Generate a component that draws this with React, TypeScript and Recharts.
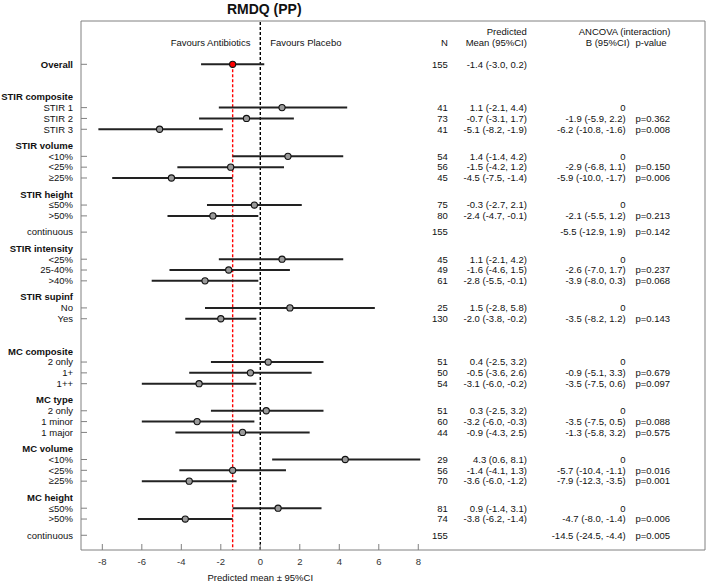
import React from 'react';
import { ComposedChart, Scatter, XAxis, YAxis, ErrorBar, ReferenceLine } from 'recharts';

// ---------- data ----------
const rowLabels: string[] = [
  'Overall', '', 'STIR composite', 'STIR 1', 'STIR 2', 'STIR 3',
  'STIR volume', '<10%', '<25%', '\u226525%',
  'STIR height', '\u226450%', '>50%', 'continuous',
  'STIR intensity', '<25%', '25-40%', '>40%',
  'STIR supinf', 'No', 'Yes', '',
  'MC composite', '2 only', '1+', '1++',
  'MC type', '2 only', '1 minor', '1 major',
  'MC volume', '<10%', '<25%', '\u226525%',
  'MC height', '\u226450%', '>50%', 'continuous',
];
// o = overall, b = blank spacer, h = group header, i = category, c = continuous
const rowTypes: string[] = [
  'o', 'b', 'h', 'i', 'i', 'i',
  'h', 'i', 'i', 'i',
  'h', 'i', 'i', 'c',
  'h', 'i', 'i', 'i',
  'h', 'i', 'i', 'b',
  'h', 'i', 'i', 'i',
  'h', 'i', 'i', 'i',
  'h', 'i', 'i', 'i',
  'h', 'i', 'i', 'c',
];
const nValues: (number | null)[] = [
  155, null, null, 41, 73, 41,
  null, 54, 56, 45,
  null, 75, 80, 155,
  null, 45, 49, 61,
  null, 25, 130, null,
  null, 51, 50, 54,
  null, 51, 60, 44,
  null, 29, 56, 70,
  null, 81, 74, 155,
];
const meanValues: (number | null)[] = [
  -1.4, null, null, 1.1, -0.7, -5.1,
  null, 1.4, -1.5, -4.5,
  null, -0.3, -2.4, null,
  null, 1.1, -1.6, -2.8,
  null, 1.5, -2.0, null,
  null, 0.4, -0.5, -3.1,
  null, 0.3, -3.2, -0.9,
  null, 4.3, -1.4, -3.6,
  null, 0.9, -3.8, null,
];
const meanLow: (number | null)[] = [
  -3.0, null, null, -2.1, -3.1, -8.2,
  null, -1.4, -4.2, -7.5,
  null, -2.7, -4.7, null,
  null, -2.1, -4.6, -5.5,
  null, -2.8, -3.8, null,
  null, -2.5, -3.6, -6.0,
  null, -2.5, -6.0, -4.3,
  null, 0.6, -4.1, -6.0,
  null, -1.4, -6.2, null,
];
const meanHigh: (number | null)[] = [
  0.2, null, null, 4.4, 1.7, -1.9,
  null, 4.2, 1.2, -1.4,
  null, 2.1, -0.1, null,
  null, 4.2, 1.5, -0.1,
  null, 5.8, -0.2, null,
  null, 3.2, 2.6, -0.2,
  null, 3.2, -0.3, 2.5,
  null, 8.1, 1.3, -1.2,
  null, 3.1, -1.4, null,
];
const bValues: (number | null)[] = [
  null, null, null, 0, -1.9, -6.2,
  null, 0, -2.9, -5.9,
  null, 0, -2.1, -5.5,
  null, 0, -2.6, -3.9,
  null, 0, -3.5, null,
  null, 0, -0.9, -3.5,
  null, 0, -3.5, -1.3,
  null, 0, -5.7, -7.9,
  null, 0, -4.7, -14.5,
];
const bLow: (number | null)[] = [
  null, null, null, null, -5.9, -10.8,
  null, null, -6.8, -10.0,
  null, null, -5.5, -12.9,
  null, null, -7.0, -8.0,
  null, null, -8.2, null,
  null, null, -5.1, -7.5,
  null, null, -7.5, -5.8,
  null, null, -10.4, -12.3,
  null, null, -8.0, -24.5,
];
const bHigh: (number | null)[] = [
  null, null, null, null, 2.2, -1.6,
  null, null, 1.1, -1.7,
  null, null, 1.2, 1.9,
  null, null, 1.7, 0.3,
  null, null, 1.2, null,
  null, null, 3.3, 0.6,
  null, null, 0.5, 3.2,
  null, null, -1.1, -3.5,
  null, null, -1.4, -4.4,
];
const pValues: (number | null)[] = [
  null, null, null, null, 0.362, 0.008,
  null, null, 0.150, 0.006,
  null, null, 0.213, 0.142,
  null, null, 0.237, 0.068,
  null, null, 0.143, null,
  null, null, 0.679, 0.097,
  null, null, 0.088, 0.575,
  null, null, 0.016, 0.001,
  null, null, 0.006, 0.005,
];
const xTicks = [-8, -6, -4, -2, 0, 2, 4, 6, 8];
const headerTexts = ['Favours Antibiotics', 'Favours Placebo', 'N', 'Predicted', 'Mean (95%CI)', 'ANCOVA (interaction)', 'B (95%CI)', 'p-value'];
const titleText = 'RMDQ (PP)';
const xAxisTitle = 'Predicted mean \u00b1 95%CI';

// ---------- layout ----------
const W = 708;
const H = 583;
const XMIN = -9.08;
const XMAX = 22.52;
const YMIN = -4;
const YMAX = 44.86;
const FONT = '"Liberation Sans", Arial, Helvetica, sans-serif';
const FS = 9.5;
const AXIS = '#808080';
const TXT = '#111';

// column anchors (data units on the x scale)
const N_X = 9.5;
const MEAN_X = 13.5;
const B_X = 18.5;
const P_X = 19.0;
const headerX = [-0.5, 0.5, N_X, MEAN_X, MEAN_X, 18.45, 18.7, P_X];
const headerRow = [-2, -2, -2, -3, -2, -3, -2, -2];
const headerAnchor = ['end', 'start', 'end', 'end', 'end', 'middle', 'end', 'start'];

// row positions: categories advance by 1, headers / continuous / spacers by 1.5
const rowPos: number[] = [];
{
  let cur = 0;
  rowTypes.forEach((t, i) => {
    if (i > 0) cur += t === 'i' ? 1 : 1.5;
    rowPos.push(cur);
  });
}

const f1 = (v: number) => v.toFixed(1);

const markData = rowPos
  .map((pos, i) => ({ i, pos }))
  .filter(({ i }) => meanValues[i] !== null)
  .map(({ i, pos }) => ({
    x: meanValues[i] as number,
    y: pos,
    err: [(meanValues[i] as number) - (meanLow[i] as number), (meanHigh[i] as number) - (meanValues[i] as number)],
    overall: rowTypes[i] === 'o',
  }));

type TextPt = { x: number; y: number; text: string; anchor: string };
const textData: TextPt[] = [];
rowPos.forEach((pos, i) => {
  if (nValues[i] !== null) textData.push({ x: N_X, y: pos, text: String(nValues[i]), anchor: 'end' });
  if (meanValues[i] !== null)
    textData.push({
      x: MEAN_X,
      y: pos,
      text: `${f1(meanValues[i] as number)} (${f1(meanLow[i] as number)}, ${f1(meanHigh[i] as number)})`,
      anchor: 'end',
    });
  if (bValues[i] !== null) {
    const t = bLow[i] === null ? '0' : `${f1(bValues[i] as number)} (${f1(bLow[i] as number)}, ${f1(bHigh[i] as number)})`;
    textData.push({ x: B_X, y: pos, text: t, anchor: 'end' });
  }
  if (pValues[i] !== null) textData.push({ x: P_X, y: pos, text: `p=${(pValues[i] as number).toFixed(3)}`, anchor: 'start' });
});
headerTexts.forEach((t, k) => textData.push({ x: headerX[k], y: headerRow[k], text: t, anchor: headerAnchor[k] }));

const tickRows = rowPos.filter((_, i) => rowTypes[i] !== 'b');
const dataTickRows = rowPos.filter((_, i) => rowTypes[i] !== 'b' && rowTypes[i] !== 'h');

// ---------- shapes ----------
const TextShape = (props: any) => {
  const { cx, cy, payload } = props;
  return (
    <text x={cx} y={cy} dy="0.35em" textAnchor={payload.anchor} fontSize={FS} fontFamily={FONT} fill={TXT}>
      {payload.text}
    </text>
  );
};

const DotShape = (props: any) => {
  const { cx, cy, payload } = props;
  return (
    <circle cx={cx} cy={cy} r={3.1} fill={payload.overall ? '#ff0000' : '#9a9a9a'} stroke="#111" strokeWidth={1.1} />
  );
};

const YTick = (props: any) => {
  const { x, y, payload } = props;
  const i = rowPos.indexOf(payload.value);
  if (i < 0) return null;
  const t = rowTypes[i];
  const bold = t === 'h' || t === 'o';
  return (
    <g>
      {t !== 'h' && <line x1={x + 8} x2={x + 14} y1={y} y2={y} stroke={AXIS} strokeWidth={1} />}
      <text
        x={x}
        y={y}
        dy="0.35em"
        textAnchor="end"
        fontSize={FS}
        fontFamily={FONT}
        fontWeight={bold ? 'bold' : 'normal'}
        fill={TXT}
      >
        {rowLabels[i]}
      </text>
    </g>
  );
};

const xAt = (vb: any, v: number) => vb.x + ((v - XMIN) / (XMAX - XMIN)) * vb.width;

const TitleLabel = (props: any) => {
  const vb = props.viewBox;
  return (
    <text x={xAt(vb, 0.2)} y={8.6} dy="0.35em" textAnchor="middle" fontSize={14} fontWeight="bold" fontFamily={FONT} fill={TXT}>
      {titleText}
    </text>
  );
};

const XTitleLabel = (props: any) => {
  const vb = props.viewBox;
  return (
    <text x={xAt(vb, 0)} y={vb.y + 27.7} dy="0.35em" textAnchor="middle" fontSize={FS} fontFamily={FONT} fill={TXT}>
      {xAxisTitle}
    </text>
  );
};

export default function App() {
  return (
    <div style={{ position: 'absolute', left: 0, top: 0, width: W, height: H, background: '#fff' }}>
      <ComposedChart width={W} height={H} margin={{ top: 0, right: 0, bottom: 0, left: 0 }}>
        <XAxis
          xAxisId="top"
          orientation="top"
          type="number"
          domain={[XMIN, XMAX]}
          allowDataOverflow
          ticks={xTicks}
          interval={0}
          height={21}
          tickSize={-6}
          tick={false}
          axisLine={{ stroke: AXIS }}
          tickLine={{ stroke: AXIS }}
          label={{ content: TitleLabel }}
        />
        <XAxis
          dataKey="x"
          type="number"
          domain={[XMIN, XMAX]}
          allowDataOverflow
          ticks={xTicks}
          interval={0}
          height={33}
          tickSize={-6}
          tickMargin={14}
          tick={{ fontSize: FS, fontFamily: FONT, fill: '#333' }}
          axisLine={{ stroke: AXIS }}
          tickLine={{ stroke: AXIS }}
          label={{ content: XTitleLabel }}
        />
        <YAxis
          dataKey="y"
          type="number"
          domain={[YMIN, YMAX]}
          reversed
          allowDataOverflow
          ticks={tickRows}
          interval={0}
          width={81}
          tickSize={0}
          tickMargin={8}
          tickLine={false}
          tick={YTick}
          axisLine={{ stroke: AXIS }}
        />
        <YAxis
          yAxisId="r"
          orientation="right"
          type="number"
          domain={[YMIN, YMAX]}
          reversed
          allowDataOverflow
          ticks={dataTickRows}
          interval={0}
          width={3}
          tickSize={-5}
          tick={false}
          axisLine={{ stroke: AXIS }}
          tickLine={{ stroke: AXIS }}
        />
        <ReferenceLine x={0} stroke="#000" strokeWidth={1.4} strokeDasharray="3 2" />
        <ReferenceLine
          segment={[
            { x: meanValues[0] as number, y: rowPos[0] },
            { x: meanValues[0] as number, y: YMAX },
          ]}
          stroke="#ff0000"
          strokeWidth={1.4}
          strokeDasharray="3 2"
        />
        <Scatter data={textData} shape={TextShape} isAnimationActive={false} />
        <Scatter data={markData} shape={DotShape} isAnimationActive={false}>
          <ErrorBar dataKey="err" direction="x" width={0} stroke="#222" strokeWidth={2} />
        </Scatter>
      </ComposedChart>
    </div>
  );
}
